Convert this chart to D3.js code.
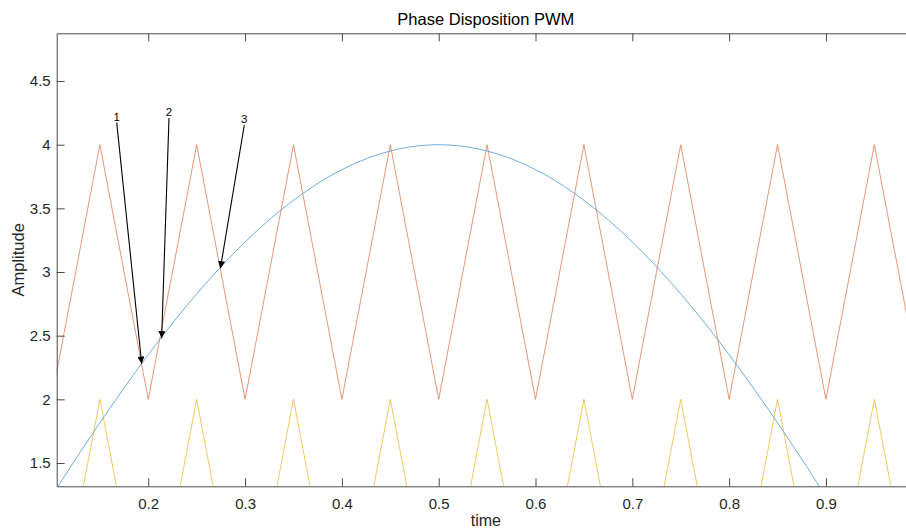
<!DOCTYPE html>
<html>
<head>
<meta charset="utf-8">
<script src="https://cdn.jsdelivr.net/npm/d3@7"></script>
<style>
  body { margin: 0; background: #fff; overflow: hidden; }
  text { font-family: "Liberation Sans", Arial, Helvetica, sans-serif; }
</style>
</head>
<body>
<div id="viz"></div>
<script>
// reference signal (blue), every 0.02 s
const sineTime = [0.08, 0.10, 0.12, 0.14, 0.16, 0.18, 0.20, 0.22, 0.24, 0.26, 0.28, 0.30,
  0.32, 0.34, 0.36, 0.38, 0.40, 0.42, 0.44, 0.46, 0.48, 0.50, 0.52, 0.54, 0.56, 0.58,
  0.60, 0.62, 0.64, 0.66, 0.68, 0.70, 0.72, 0.74, 0.76, 0.78, 0.80, 0.82, 0.84, 0.86,
  0.88, 0.90, 0.92];
const sineValue = [0.995, 1.236, 1.473, 1.703, 1.927, 2.143, 2.351, 2.550, 2.738, 2.916, 3.082, 3.236,
  3.377, 3.505, 3.619, 3.719, 3.804, 3.874, 3.929, 3.968, 3.992, 4.000, 3.992, 3.968, 3.929, 3.874,
  3.804, 3.719, 3.619, 3.505, 3.377, 3.236, 3.082, 2.916, 2.738, 2.550, 2.351, 2.143, 1.927, 1.703,
  1.473, 1.236, 0.995];

// upper carrier (red): corners of the triangle wave
const upperTime = [0.10, 0.15, 0.20, 0.25, 0.30, 0.35, 0.40, 0.45, 0.50, 0.55, 0.60, 0.65,
  0.70, 0.75, 0.80, 0.85, 0.90, 0.95, 1.00];
const upperValue = [2, 4, 2, 4, 2, 4, 2, 4, 2, 4, 2, 4, 2, 4, 2, 4, 2, 4, 2];

// lower carrier (yellow)
const lowerTime = upperTime;
const lowerValue = [0, 2, 0, 2, 0, 2, 0, 2, 0, 2, 0, 2, 0, 2, 0, 2, 0, 2, 0];

// text arrows
const arrowLabel = ["1", "2", "3"];
const arrowTailT = [0.1674, 0.2214, 0.2992];
const arrowTailV = [4.173, 4.21, 4.155];
const arrowTipT = [0.1932, 0.2138, 0.2745];
const arrowTipV = [2.28, 2.48, 3.03];

const xTicks = [0.2, 0.3, 0.4, 0.5, 0.6, 0.7, 0.8, 0.9];
const yTicks = [1.5, 2, 2.5, 3, 3.5, 4, 4.5];

const W = 906, H = 531;
const pL = 56.7, pR = 915, pT = 33.3, pB = 486.3;

const svg = d3.select("#viz").append("svg")
  .attr("width", W).attr("height", H);

const x = d3.scaleLinear().domain([0.1054, 0.992]).range([pL, pR]);
const y = d3.scaleLinear().domain([1.317, 4.875]).range([pB, pT]);

const defs = svg.append("defs");
defs.append("clipPath").attr("id", "plot")
  .append("rect").attr("x", pL).attr("y", pT)
  .attr("width", pR - pL).attr("height", pB - pT);

defs.append("marker")
  .attr("id", "head").attr("viewBox", "0 0 10 10")
  .attr("refX", 10).attr("refY", 5)
  .attr("markerWidth", 8).attr("markerHeight", 7)
  .attr("markerUnits", "userSpaceOnUse")
  .attr("orient", "auto")
  .append("path").attr("d", "M0,0 L10,5 L0,10 Z").attr("fill", "#000");

const lines = svg.append("g").attr("clip-path", "url(#plot)");

const line = d3.line().x(d => x(d[0])).y(d => y(d[1]));

lines.append("path")
  .datum(upperTime.map((t, i) => [t, upperValue[i]]))
  .attr("d", line)
  .attr("fill", "none").attr("stroke", "#DE6A3C").attr("stroke-width", 0.7);

lines.append("path")
  .datum(lowerTime.map((t, i) => [t, lowerValue[i]]))
  .attr("d", line)
  .attr("fill", "none").attr("stroke", "#EDB120").attr("stroke-width", 0.7);

lines.append("path")
  .datum(sineTime.map((t, i) => [t, sineValue[i]]))
  .attr("d", line.curve(d3.curveCatmullRom))
  .attr("fill", "none").attr("stroke", "#3C93D4").attr("stroke-width", 0.75);

// axes
const axisColor = "#4a4a4a";
const tickLen = 8;

const xAxisB = svg.append("g").attr("transform", `translate(0,${pB})`)
  .call(d3.axisBottom(x).tickValues(xTicks).tickSizeInner(-tickLen).tickSizeOuter(0)
    .tickPadding(12).tickFormat(d3.format("")));
const xAxisT = svg.append("g").attr("transform", `translate(0,${pT})`)
  .call(d3.axisTop(x).tickValues(xTicks).tickSizeInner(-tickLen).tickSizeOuter(0)
    .tickFormat(""));
const yAxisL = svg.append("g").attr("transform", `translate(${pL},0)`)
  .call(d3.axisLeft(y).tickValues(yTicks).tickSizeInner(-tickLen).tickSizeOuter(0)
    .tickPadding(6).tickFormat(d3.format("")));

[xAxisB, xAxisT, yAxisL].forEach(g => {
  g.select(".domain").attr("stroke", axisColor).attr("stroke-width", 1);
  g.selectAll(".tick line").attr("stroke", axisColor).attr("stroke-width", 1);
  g.selectAll(".tick text").attr("fill", "#262626")
    .style("font-family", "'Liberation Sans', Arial, sans-serif").style("font-size", "15px");
});

// arrows with labels
arrowLabel.forEach((lab, i) => {
  svg.append("line")
    .attr("x1", x(arrowTailT[i])).attr("y1", y(arrowTailV[i]))
    .attr("x2", x(arrowTipT[i])).attr("y2", y(arrowTipV[i]))
    .attr("stroke", "#000").attr("stroke-width", 1.1)
    .attr("marker-end", "url(#head)");
  svg.append("text")
    .attr("x", x(arrowTailT[i])).attr("y", y(arrowTailV[i]) - 1.5)
    .attr("text-anchor", "middle")
    .style("font-size", "11.5px").attr("fill", "#000")
    .text(lab);
});

// title and labels
svg.append("text")
  .attr("x", (pL + pR) / 2).attr("y", 25)
  .attr("text-anchor", "middle").style("font-size", "16.5px").attr("fill", "#000")
  .text("Phase Disposition PWM");

svg.append("text")
  .attr("x", (pL + pR) / 2).attr("y", 525.5)
  .attr("text-anchor", "middle").style("font-size", "16px").attr("fill", "#262626")
  .text("time");

svg.append("text")
  .attr("transform", `translate(24,${(pT + pB) / 2}) rotate(-90)`)
  .attr("text-anchor", "middle").style("font-size", "16.5px").attr("fill", "#262626")
  .text("Amplitude");
</script>
</body>
</html>
